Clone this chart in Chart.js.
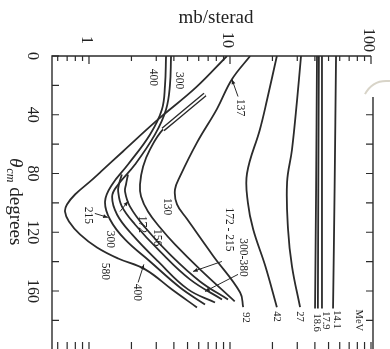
<!DOCTYPE html>
<html><head><meta charset="utf-8">
<script src="https://cdn.jsdelivr.net/npm/chart.js@4.4.1/dist/chart.umd.min.js"></script>
<style>html,body{margin:0;padding:0;background:#fff;}#wrap{width:390px;height:349px;}</style>
</head><body><div id="wrap"><canvas id="c" width="390" height="349"></canvas></div>
<script>
// Axis ticks
const thetaTicks = [0, 40, 80, 120, 160];
const thetaMinor = [20, 60, 100, 140, 180];
const sigmaTicks = [1, 10, 100];
const sigmaMinor = [0.6, 0.7, 0.8, 0.9, 2, 3, 4, 5, 6, 7, 8, 9, 20, 30, 40, 50, 60, 70, 80, 90];

// Curves: [theta_cm (deg), d sigma/d omega (mb/sterad)]
const mev14_1 = [[0, 56.5], [90, 55.2], [172, 53.8]];
const mev17_9 = [[0, 44.9], [90, 44.9], [172, 44.9]];
const mev18_6a = [[0, 42.7], [90, 42.3], [172, 42.0]];
const mev18_6 = [[0, 41.4], [90, 40.8], [172, 40.1]];
const mev27 = [[0, 31.9], [30, 29.9], [64, 27.5], [86, 25.4], [118, 25.8], [143, 27.5], [171, 31.4]];
const mev42 = [[0, 21.5], [30, 18.3], [50, 16.3], [80, 13.2], [100, 13.4], [118, 14.6], [143, 17.8], [171, 21.5]];
const mev92 = [[0, 13.9], [16, 10.3], [36, 8.09], [59, 5.83], [82, 4.42], [91, 4.07], [101, 4.21], [111, 4.96], [136, 7.58], [161, 11.8], [171, 12.4]];
const mev137 = [[26.2, 6.65], [36.4, 4.95], [50, 3.35]];
const mev156 = [[26.2, 6.65], [36.4, 4.95], [50, 3.35], [63.6, 2.71], [75.2, 2.42], [87.5, 2.30], [95.6, 2.34], [105.9, 2.62], [116.8, 3.19], [128.3, 4.07], [145.3, 6.13], [167.1, 10.8]];
const mev172 = [[80.7, 1.89], [87.5, 1.83], [92.2, 1.80], [102.4, 1.95], [116.8, 2.50], [135.1, 3.75], [153.5, 6.13], [165.8, 9.68]];
const mev215 = [[80.7, 1.71], [87.5, 1.63], [92.2, 1.61], [102.4, 1.71], [114.7, 2.12], [133.1, 3.19], [152.1, 5.2], [165.8, 8.78]];
const mev300 = [[0, 3.82], [20, 3.75], [36.4, 3.52], [53.4, 2.94], [73.9, 2.12], [87.5, 1.61], [95.6, 1.46], [107.9, 1.58], [121.5, 2.02], [139.9, 3.09], [158.9, 5.04], [167.8, 7.83]];
const mev400 = [[0, 3.52], [20, 3.46], [36.4, 3.29], [53.4, 2.71], [73.9, 1.89], [87.5, 1.46], [99, 1.30], [111.3, 1.41], [124.9, 1.80], [139.9, 2.71], [157.6, 4.42], [169.2, 6.65]];
const mev580 = [[0, 9.52], [21.4, 5.74], [43.2, 3.09], [65, 1.74], [78.6, 1.22], [85.4, 1.02], [94.3, 0.796], [101.1, 0.698], [105.9, 0.676], [112.7, 0.721], [121.5, 0.863], [130.4, 1.14], [137.9, 1.61], [145.3, 2.50], [159, 3.88], [171.2, 5.83]];

const curves = [mev14_1, mev17_9, mev18_6a, mev18_6, mev27, mev42, mev92, mev156, mev172, mev215, mev300, mev400, mev580];

// Curve labels: [text, sigma, theta, size]
const curveLabels = [
  ['400', 2.84, 14.6, 11.5], ['300', 4.35, 16.7, 11.5], ['137', 11.8, 35.1, 11.5],
  ['130', 3.57, 102.5, 11.5], ['172 - 215', 9.84, 118.1, 11.5], ['300-380', 12.4, 137.2, 11.5],
  ['156', 3.04, 123.6, 11.5], ['172', 2.38, 114.7, 11.5], ['215', 0.984, 108.6, 11.5],
  ['300', 1.41, 124.9, 11.5], ['580', 1.30, 146.7, 11.5], ['400', 2.19, 161, 11.5],
  ['92', 13.0, 178, 10.5], ['42', 21.5, 177.3, 10.5], ['27', 31.4, 177.3, 10.5],
  ['18.6', 41.4, 181.5, 10.5], ['17.9', 47.5, 180, 10.5], ['14.1', 57, 179.4, 10.5],
  ['MeV', 82.2, 180, 10.5]
];
// Pointer arrows: [sigmaFrom, thetaFrom, sigmaTo, thetaTo, head]
const arrows = [
  [11.4, 27.6, 10.33, 16, 1], [2.23, 154.2, 2.45, 141.9, 1], [8.76, 139.9, 5.47, 146.7, 1],
  [11.4, 148.7, 6.65, 160.3, 1], [1.10, 107.2, 1.36, 109.9, 1], [1.66, 105.9, 1.89, 99, 1]
];

const INK = '#2b2b2b';
const SERIF = '"Liberation Serif", "DejaVu Serif", serif';

function rotText(ctx, txt, x, y, size) {
  ctx.save();
  ctx.translate(x, y);
  ctx.rotate(Math.PI / 2);
  ctx.font = size + 'px ' + SERIF;
  ctx.textAlign = 'center';
  ctx.textBaseline = 'middle';
  ctx.fillText(txt, 0, 0);
  ctx.restore();
}

const deco = {
  id: 'deco',
  afterDatasetsDraw(chart) {
    const ctx = chart.ctx, a = chart.chartArea;
    const xs = chart.scales.x, ys = chart.scales.y;
    ctx.save();
    ctx.strokeStyle = INK; ctx.fillStyle = INK; ctx.lineWidth = 1.4;
    // Frame
    const rTop = ys.getPixelForValue(28);
    ctx.beginPath();
    ctx.moveTo(a.left, a.bottom + 2); ctx.lineTo(a.left, a.top); ctx.lineTo(a.right, a.top);
    ctx.moveTo(a.right + 2, rTop); ctx.lineTo(a.right + 2, a.bottom + 2);
    ctx.stroke();
    // page curl of the scan
    ctx.strokeStyle = '#d8d4c8'; ctx.lineWidth = 2;
    ctx.beginPath(); ctx.moveTo(a.right - 6, rTop - 3); ctx.quadraticCurveTo(a.right + 2, rTop - 18, 390, rTop - 16); ctx.stroke();
    ctx.strokeStyle = INK;
    // top & bottom ticks
    ctx.lineWidth = 1.2;
    const allS = sigmaTicks.map(v => [v, 8]).concat(sigmaMinor.map(v => [v, 5]));
    allS.forEach(([v, len]) => {
      const x = xs.getPixelForValue(v);
      ctx.beginPath();
      ctx.moveTo(x, a.top); ctx.lineTo(x, a.top + len);
      ctx.moveTo(x, a.bottom); ctx.lineTo(x, a.bottom - 7);
      ctx.stroke();
    });
    // left & right ticks
    thetaTicks.concat(thetaMinor).forEach(t => {
      const y = ys.getPixelForValue(t);
      ctx.beginPath();
      ctx.moveTo(a.left, y); ctx.lineTo(a.left + 7, y);
      if (t >= 40) { ctx.moveTo(a.right + 2, y); ctx.lineTo(a.right - 5, y); }
      ctx.stroke();
    });
    // tick labels
    ctx.fillStyle = '#222';
    sigmaTicks.forEach(v => rotText(ctx, String(v), xs.getPixelForValue(v) - 3, a.top - 16, 16));
    thetaTicks.forEach(t => rotText(ctx, String(t), a.left - 20, ys.getPixelForValue(t), 16));
    // axis titles
    ctx.font = '19px ' + SERIF; ctx.textAlign = 'center'; ctx.textBaseline = 'middle';
    ctx.fillText('mb/sterad', 216, 18);
    ctx.save();
    ctx.translate(15, 158);
    ctx.rotate(Math.PI / 2);
    ctx.textAlign = 'left'; ctx.textBaseline = 'middle';
    ctx.font = 'italic 19px ' + SERIF; ctx.fillText('θ', 0, 0);
    let w = ctx.measureText('θ').width;
    ctx.font = 'italic 12px ' + SERIF; ctx.fillText('cm', w + 1, 5);
    w += ctx.measureText('cm').width + 6;
    ctx.font = '19px ' + SERIF; ctx.fillText('degrees', w, 0);
    ctx.restore();
    // curve labels
    curveLabels.forEach(([t, s, th, sz]) => rotText(ctx, t, xs.getPixelForValue(s), ys.getPixelForValue(th), sz));
    // arrows
    ctx.lineWidth = 1;
    arrows.forEach(([s1, t1, s2, t2, h]) => {
      const x1 = xs.getPixelForValue(s1), y1 = ys.getPixelForValue(t1);
      const x2 = xs.getPixelForValue(s2), y2 = ys.getPixelForValue(t2);
      ctx.beginPath(); ctx.moveTo(x1, y1); ctx.lineTo(x2, y2); ctx.stroke();
      if (h) {
        const ang = Math.atan2(y2 - y1, x2 - x1);
        ctx.beginPath();
        ctx.moveTo(x2, y2);
        ctx.lineTo(x2 - 5 * Math.cos(ang - 0.4), y2 - 5 * Math.sin(ang - 0.4));
        ctx.lineTo(x2 - 5 * Math.cos(ang + 0.4), y2 - 5 * Math.sin(ang + 0.4));
        ctx.closePath(); ctx.fill();
      }
    });
    ctx.restore();
  }
};

const datasets = curves.map(c => ({
  data: c.map(p => ({ x: p[1], y: p[0] })),
  showLine: true, borderColor: INK, borderWidth: 1.8, pointRadius: 0, tension: 0.4, fill: false, order: 0
}));
// 137 MeV partial curve drawn as a double line (black band with white core, drawn on top)
datasets.push({ data: mev137.map(p => ({ x: p[1], y: p[0] })), showLine: true, borderColor: INK, borderWidth: 4.6, pointRadius: 0, tension: 0.4, order: -1 });
datasets.push({ data: mev137.map(p => ({ x: p[1], y: p[0] })), showLine: true, borderColor: '#fff', borderWidth: 1.8, pointRadius: 0, tension: 0.4, order: -2 });

new Chart(document.getElementById('c'), {
  type: 'scatter',
  data: { datasets },
  options: {
    responsive: false, animation: false, devicePixelRatio: 1,
    layout: { padding: { left: 52, right: 19, top: 56, bottom: 0 } },
    scales: {
      x: { type: 'logarithmic', min: 0.5466, max: 100, display: false },
      y: { type: 'linear', min: 0, max: 199.5, reverse: true, display: false }
    },
    plugins: { legend: { display: false }, tooltip: { enabled: false } }
  },
  plugins: [deco]
});
</script></body></html>
